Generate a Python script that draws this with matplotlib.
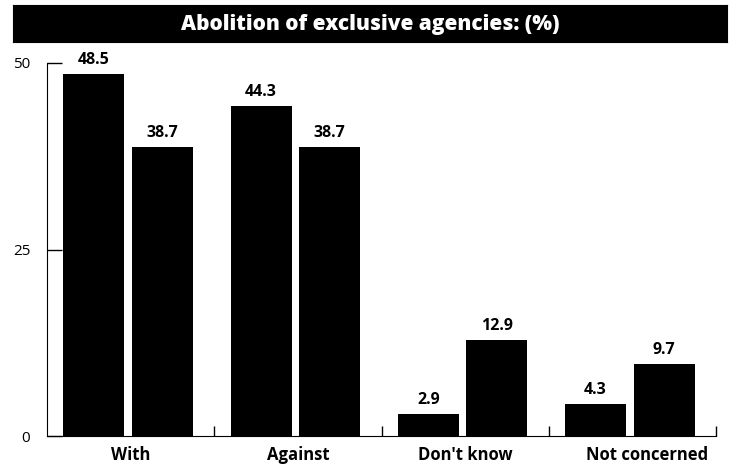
import matplotlib.pyplot as plt
import matplotlib.transforms as mtransforms
import numpy as np

categories = ["With", "Against", "Don't know", "Not concerned"]
series_a = [48.5, 44.3, 2.9, 4.3]
series_b = [38.7, 38.7, 12.9, 9.7]
y_ticks = [0, 25, 50]

plt.rcParams['font.family'] = ['Open Sans', 'DejaVu Sans']

fig = plt.figure(figsize=(7.33, 4.68), dpi=100)

# black title band
band = fig.add_axes([13 / 733, 1 - 42 / 468, 714 / 733, 37 / 468])
band.set_facecolor("black")
band.set_xticks([])
band.set_yticks([])
band.text(0.5, 0.48, "Abolition of exclusive agencies: (%)", color="white",
          fontsize=15, fontweight="heavy", ha="center", va="center",
          transform=band.transAxes)

ax = fig.add_axes([47 / 733, 1 - 436 / 468, 669 / 733, 373 / 468])
x = np.arange(len(categories))
w = 0.365
bars_a = ax.bar(x - 0.22, series_a, w, color="black")
bars_b = ax.bar(x + 0.19, series_b, w, color="black")

for bars, vals in ((bars_a, series_a), (bars_b, series_b)):
    for b, v in zip(bars, vals):
        ax.text(b.get_x() + b.get_width() / 2, v + 0.8, f"{v:.1f}",
                ha="center", va="bottom", fontsize=11.5, fontweight="bold")

ax.set_xlim(-0.5, 3.5)
ax.set_ylim(0, 50)
ax.spines["top"].set_visible(False)
ax.spines["right"].set_visible(False)

ax.set_yticks(y_ticks)
ax.set_yticklabels([str(t) for t in y_ticks], fontsize=11)
ax.tick_params(axis="y", direction="in", length=11, width=1, pad=12)

# category labels sit between boundary ticks
ax.set_xticks(x)
ax.set_xticklabels(categories, fontsize=12, fontweight="bold")
ax.tick_params(axis="x", length=0, pad=7)
ax.set_xticks(np.arange(len(categories)) + 0.5, minor=True)
ax.tick_params(axis="x", which="minor", direction="in", length=7, width=1)

# last label is nudged right
last = ax.get_xticklabels()[-1]
last.set_transform(last.get_transform() +
                   mtransforms.ScaledTranslation(0.15, 0, fig.dpi_scale_trans))

fig.savefig("out.png", dpi=100)
